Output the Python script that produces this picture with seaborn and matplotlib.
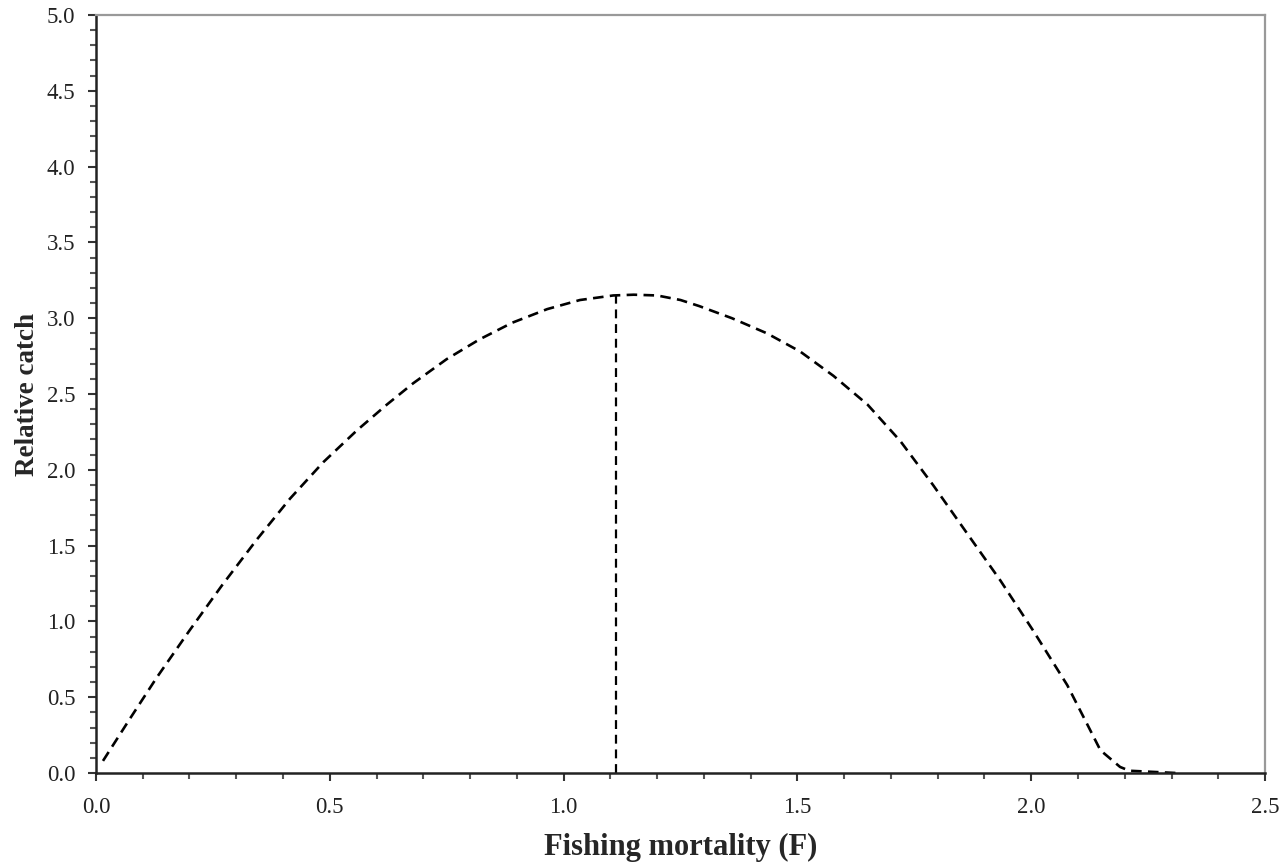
import numpy as np
import pandas as pd
import matplotlib
matplotlib.use("Agg")
import matplotlib.pyplot as plt
from matplotlib.ticker import MultipleLocator, FormatStrFormatter
import seaborn as sns

# data
fishing_f = [0.015, 0.073, 0.13, 0.20, 0.27, 0.344, 0.415, 0.486, 0.558, 0.622,
             0.678, 0.75, 0.82, 0.89, 0.965, 1.035, 1.106, 1.15, 1.2, 1.25,
             1.29, 1.36, 1.435, 1.506, 1.577, 1.65, 1.72, 1.79, 1.863, 1.934,
             2.004, 2.077, 2.12, 2.148, 2.19, 2.21, 2.31]
rel_catch = [0.08, 0.36, 0.63, 0.94, 1.24, 1.54, 1.81, 2.05, 2.26, 2.43,
             2.57, 2.73, 2.86, 2.97, 3.06, 3.12, 3.15, 3.155, 3.15, 3.12,
             3.08, 3.00, 2.90, 2.78, 2.62, 2.43, 2.19, 1.90, 1.58, 1.27,
             0.94, 0.58, 0.32, 0.15, 0.04, 0.015, 0.0]
f_max = 1.112
catch_max = 3.15

df = pd.DataFrame({"F": fishing_f, "catch": rel_catch})
df_max = pd.DataFrame({"F": [f_max, f_max], "catch": [0.0, catch_max]})

sns.set_style("ticks")
plt.rcParams['font.family'] = ['Liberation Serif', 'DejaVu Serif']

fig = plt.figure(figsize=(12.83, 8.67), dpi=100)
ax = fig.add_axes([0.0748, 0.1084, 0.9112, 0.8743])

sns.lineplot(data=df, x="F", y="catch", ax=ax, color="black", linewidth=1.9,
             linestyle=(0, (4, 2.4)), sort=False, estimator=None)
sns.lineplot(data=df_max, x="F", y="catch", ax=ax, color="black", linewidth=1.6,
             linestyle=(0, (4, 2.6)), sort=False, estimator=None)

ax.set_xlim(0, 2.5)
ax.set_ylim(0, 5.0)
ax.xaxis.set_major_locator(MultipleLocator(0.5))
ax.xaxis.set_minor_locator(MultipleLocator(0.1))
ax.yaxis.set_major_locator(MultipleLocator(0.5))
ax.yaxis.set_minor_locator(MultipleLocator(0.1))
ax.xaxis.set_major_formatter(FormatStrFormatter('%.1f'))
ax.yaxis.set_major_formatter(FormatStrFormatter('%.1f'))

ax.tick_params(axis='both', which='major', direction='out', length=6, width=1.5,
               color='#333333', labelsize=16.5, labelcolor='#222222')
ax.tick_params(axis='both', which='minor', direction='out', length=4, width=1.5,
               color='#555555')
ax.tick_params(axis='x', which='major', pad=11)
ax.tick_params(axis='y', which='major', pad=9)

for side in ['left', 'bottom']:
    ax.spines[side].set_color('#222222')
    ax.spines[side].set_linewidth(1.8)
for side in ['top', 'right']:
    ax.spines[side].set_visible(True)
    ax.spines[side].set_color('#999999')
    ax.spines[side].set_linewidth(1.6)

ax.set_xlabel("Fishing mortality (F)", fontsize=22, fontweight='bold', labelpad=11)
ax.set_ylabel("Relative catch", fontsize=19.5, fontweight='bold', labelpad=5)

fig.savefig("out.png", dpi=100)
